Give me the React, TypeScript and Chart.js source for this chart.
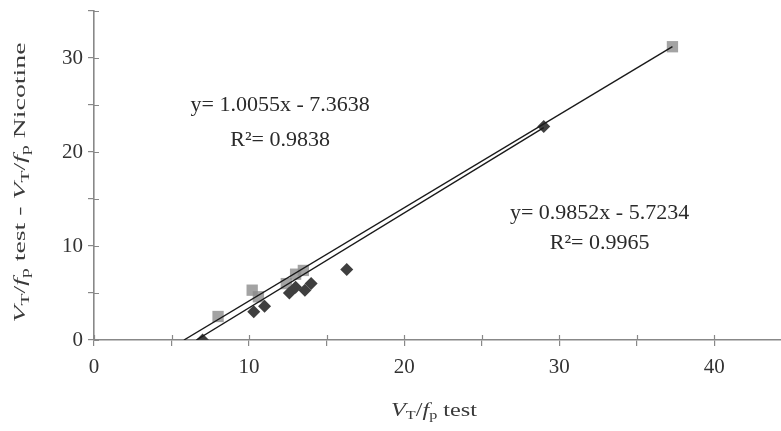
import { useEffect, useRef } from 'react';
import { Chart, registerables } from 'chart.js';

Chart.register(...registerables);

// Series 1 (dark diamonds)
const diamondX = [7.0, 10.3, 11.0, 12.6, 13.0, 13.6, 14.0, 16.3, 29.0];
const diamondY = [0.0, 3.0, 3.6, 5.0, 5.6, 5.3, 6.0, 7.5, 22.7];
// Series 2 (grey squares)
const squareX = [8.0, 10.2, 10.6, 12.4, 13.0, 13.5, 37.3];
const squareY = [2.5, 5.3, 4.6, 6.0, 7.0, 7.4, 31.2];
// Trend lines (end points)
const upperLineX = [5.8, 37.3];
const upperLineY = [0.0, 31.2];
const lowerLineX = [6.6, 29.0];
const lowerLineY = [0.0, 22.6];
// Axis ranges / ticks
const xMin = 0;
const xMax = 44.3;
const yMin = 0;
const yMax = 35;
const tickStep = 5;
const labelStep = 10;
// Equation annotations
const eqTexts = ['y= 1.0055x - 7.3638', 'R²= 0.9838', 'y= 0.9852x - 5.7234', 'R²= 0.9965'];
const eqX = [12.0, 12.0, 32.6, 32.6];
const eqY = [25.0, 21.3, 13.5, 10.3];

type Seg = { t: string; it?: boolean; sub?: boolean };
const vtfp: Seg[] = [
  { t: 'V', it: true },
  { t: 'T', sub: true },
  { t: '/' },
  { t: 'f', it: true },
  { t: 'p', sub: true },
];
const xTitle: Seg[] = [...vtfp, { t: ' test' }];
const yTitle: Seg[] = [...vtfp, { t: ' test - ' }, ...vtfp, { t: ' Nicotine' }];

const FONT = '"Liberation Serif", "Times New Roman", serif';

function drawRich(ctx: CanvasRenderingContext2D, segs: Seg[], size: number, targetWidth: number) {
  const fontFor = (s: Seg) =>
    `${s.it ? 'italic ' : ''}${s.sub ? Math.round(size * 0.68) : size}px ${FONT}`;
  let total = 0;
  const widths: number[] = [];
  for (const s of segs) {
    ctx.font = fontFor(s);
    const w = ctx.measureText(s.t).width;
    widths.push(w);
    total += w;
  }
  const k = targetWidth / total;
  ctx.scale(k, 1);
  let x = -total / 2;
  ctx.textBaseline = 'middle';
  ctx.textAlign = 'left';
  segs.forEach((s, i) => {
    ctx.font = fontFor(s);
    ctx.fillText(s.t, x, s.sub ? size * 0.28 : 0);
    x += widths[i];
  });
}

const textPlugin = {
  id: 'texts',
  afterDraw(chart: any) {
    const ctx: CanvasRenderingContext2D = chart.ctx;
    const { chartArea, scales } = chart;
    ctx.save();
    ctx.fillStyle = '#3a3a3a';
    // inner halves of the crossing tick marks
    ctx.strokeStyle = '#888';
    ctx.lineWidth = 1.2;
    ctx.beginPath();
    scales.x.ticks.forEach((t: any) => {
      const px = Math.round(scales.x.getPixelForValue(t.value)) + 0.5;
      ctx.moveTo(px, chartArea.bottom);
      ctx.lineTo(px, chartArea.bottom - 5);
    });
    scales.y.ticks.forEach((t: any) => {
      const py = Math.round(scales.y.getPixelForValue(t.value)) + 0.5;
      ctx.moveTo(chartArea.left, py);
      ctx.lineTo(chartArea.left + 5, py);
    });
    ctx.stroke();
    // x title
    ctx.save();
    ctx.translate(434, 411);
    drawRich(ctx, xTitle, 18, 86);
    ctx.restore();
    // y title
    ctx.save();
    ctx.translate(21, (chartArea.top + chartArea.bottom) / 2 + 7);
    ctx.rotate(-Math.PI / 2);
    drawRich(ctx, yTitle, 17, 280);
    ctx.restore();
    // equations
    ctx.font = `22px ${FONT}`;
    ctx.textAlign = 'center';
    ctx.textBaseline = 'middle';
    ctx.fillStyle = '#2a2a2a';
    eqTexts.forEach((t, i) => {
      ctx.fillText(t, scales.x.getPixelForValue(eqX[i]), scales.y.getPixelForValue(eqY[i]));
    });
    ctx.restore();
  },
};

export default function App() {
  const ref = useRef<HTMLCanvasElement>(null);
  useEffect(() => {
    document.body.style.margin = '0';
    const toPts = (xs: number[], ys: number[]) => xs.map((x, i) => ({ x, y: ys[i] }));
    const axisCommon = (min: number, max: number, pad: number) => ({
      type: 'linear' as const,
      min,
      max,
      ticks: {
        stepSize: tickStep,
        includeBounds: false,
        autoSkip: false,
        maxRotation: 0,
        padding: pad,
        color: '#333',
        font: { family: FONT, size: 21 },
        callback: (v: any) => (Number(v) % labelStep === 0 ? String(v) : ''),
      },
      grid: { drawOnChartArea: false, drawTicks: true, tickLength: 6, color: '#888', lineWidth: 1.2 },
      border: { color: '#888', width: 1.6 },
    });
    const chart = new Chart(ref.current!, {
      type: 'scatter',
      data: {
        datasets: [
          {
            data: toPts(upperLineX, upperLineY),
            showLine: true,
            pointRadius: 0,
            borderColor: '#1a1a1a',
            borderWidth: 1.4,
            order: 0,
          },
          {
            data: toPts(lowerLineX, lowerLineY),
            showLine: true,
            pointRadius: 0,
            borderColor: '#1a1a1a',
            borderWidth: 1.4,
            order: 0,
          },
          {
            data: toPts(squareX, squareY),
            pointStyle: 'rect',
            pointRadius: 8,
            backgroundColor: 'rgba(140,140,140,0.8)',
            borderColor: 'rgba(140,140,140,0.8)',
            borderWidth: 0,
            order: 2,
          },
          {
            data: toPts(diamondX, diamondY),
            pointStyle: 'rectRot',
            pointRadius: 6.5,
            backgroundColor: '#3f3f3f',
            borderColor: '#3f3f3f',
            borderWidth: 0,
            order: 1,
          },
        ],
      },
      options: {
        animation: false,
        responsive: false,
        layout: { autoPadding: false, padding: { top: 11, right: 0, left: 0, bottom: 0 } },
        plugins: { legend: { display: false }, tooltip: { enabled: false } },
        scales: {
          x: {
            ...axisCommon(xMin, xMax, 9),
            afterFit: (s: any) => {
              s.height = 91;
              s.paddingRight = 0;
              s.paddingLeft = 0;
            },
          },
          y: {
            ...axisCommon(yMin, yMax, 5),
            afterFit: (s: any) => {
              s.width = 94;
              s.paddingTop = 0;
              s.paddingBottom = 0;
            },
          },
        },
      },
      plugins: [textPlugin],
    });
    return () => chart.destroy();
  }, []);
  return (
    <div style={{ width: 781, height: 431, background: '#fff' }}>
      <canvas ref={ref} width={781} height={431} />
    </div>
  );
}
